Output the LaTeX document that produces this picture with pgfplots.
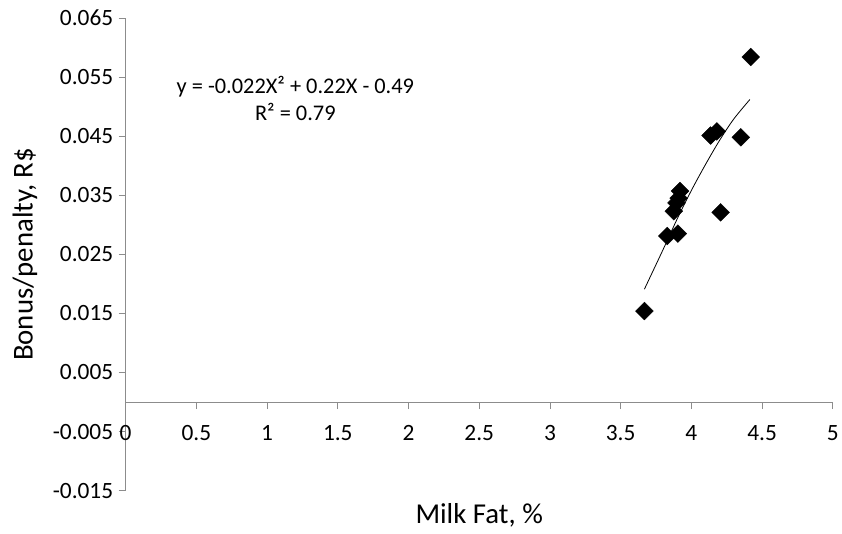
\documentclass[border=0pt]{standalone}
\usepackage{pgfplots}
\pgfplotsset{compat=1.18}
\usepackage{fontspec}
\setmainfont{Carlito}
\definecolor{axgray}{HTML}{8C8C8C}
\begin{document}
\begin{tikzpicture}
\begin{axis}[
  scale only axis, width=709bp, height=474bp,
  xmin=0, xmax=5, ymin=-0.015, ymax=0.065,
  axis y line=left, axis x line=middle,
  axis line style={-, draw=axgray, line width=0.8bp},
  scaled y ticks=false, scaled x ticks=false,
  xtick={0,0.5,1,1.5,2,2.5,3,3.5,4,4.5,5},
  xticklabels={0,0.5,1,1.5,2,2.5,3,3.5,4,4.5,5},
  ytick={-0.015,-0.005,0.005,0.015,0.025,0.035,0.045,0.055,0.065},
  yticklabels={-0.015,-0.005,0.005,0.015,0.025,0.035,0.045,0.055,0.065},
  tick align=outside, major tick length=7bp,
  tick style={draw=axgray, line width=0.8bp},
  hide obscured x ticks=false, hide obscured y ticks=false,
  ticklabel style={font=\fontsize{23.5}{26}\selectfont, text=black},
  xticklabel style={yshift=-13bp},
  yticklabel style={xshift=-2bp},
  xlabel={Milk Fat, \%}, ylabel={Bonus/penalty, R\$},
  label style={font=\fontsize{29}{32}\selectfont},
  xlabel style={at={(axis description cs:0.5,0)}, anchor=north, yshift=-9bp},
  ylabel style={at={(axis description cs:-0.1425,0.5)}, anchor=center},
  clip=false,
]
\addplot[only marks, mark=square*, mark size=6.3bp, mark options={rotate=45, fill=black, draw=black}] coordinates {
  (3.668,0.0154) (3.83,0.0281) (3.905,0.0285) (3.876,0.0323) (3.895,0.0337)
  (3.91,0.0345) (3.92,0.0357) (4.136,0.0451) (4.18,0.0458) (4.207,0.0321)
  (4.35,0.0448) (4.42,0.0584)
};
\addplot[black, line width=0.8bp, smooth] coordinates {
  (3.668,0.0191) (3.8,0.0258) (3.9,0.0310) (4.0,0.0358) (4.1,0.0402)
  (4.2,0.0443) (4.3,0.0479) (4.414,0.0512)
};
\node[align=center, font=\fontsize{22.5}{27}\selectfont] at (axis cs:1.2,0.0514) {y = -0.022X² + 0.22X - 0.49\\R² = 0.79};
\coordinate (ll) at (rel axis cs:0,0);
\coordinate (ur) at (rel axis cs:1,1);
\end{axis}
\path ([shift={(-126bp,-43bp)}]ll) rectangle ([shift={(7bp,18bp)}]ur);
\end{tikzpicture}
\end{document}
